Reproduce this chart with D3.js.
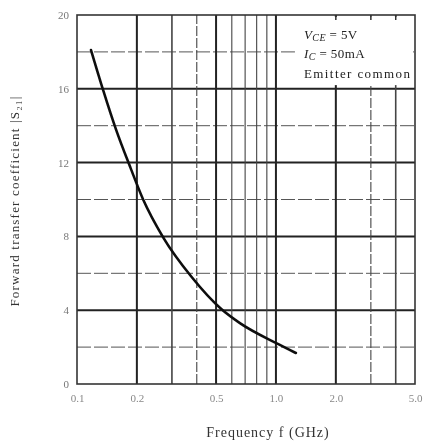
<!DOCTYPE html>
<html>
<head>
<meta charset="utf-8">
<script src="https://cdn.jsdelivr.net/npm/d3@7"></script>
<style>
  body { margin: 0; background: #fff; }
  text { font-family: "Liberation Serif", "DejaVu Serif", serif; }
</style>
</head>
<body>
<div id="chart"></div>
<script>
// curve
const freq = [0.1176, 0.1356, 0.157, 0.186, 0.215, 0.271, 0.377, 0.533, 0.659, 1.01, 1.26];
const s21  = [18.1, 15.9, 13.8, 11.7, 10.0, 7.95, 5.8, 4.05, 3.3, 2.2, 1.68];

const xTicks = [0.1, 0.2, 0.5, 1.0, 2.0, 5.0];
const xTickLabels = ["0.1", "0.2", "0.5", "1.0", "2.0", "5.0"];
const xMajorGrid = [0.2, 0.5, 1.0, 2.0];
const xMinorGrid = [0.3, 0.4, 0.6, 0.7, 0.8, 0.9, 3.0, 4.0];
const yTicks = [0, 4, 8, 12, 16, 20];
const yMinorGrid = [2, 6, 10, 14, 18];
const legendLines = ["Emitter common"];

const width = 423, height = 441;
const margin = {top: 15, right: 8, bottom: 57, left: 77};

const svg = d3.select("#chart").append("svg")
  .attr("width", width)
  .attr("height", height);

// little blur to mimic the scanned look
svg.append("defs").append("filter").attr("id", "soft")
  .append("feGaussianBlur").attr("stdDeviation", 0.45);

const g = svg.append("g").attr("filter", "url(#soft)");

const x = d3.scaleLog()
  .domain([0.1, 5])
  .range([margin.left, width - margin.right]);

const y = d3.scaleLinear()
  .domain([0, 20])
  .range([height - margin.bottom, margin.top]);

// grid
g.selectAll(".ygrid-minor").data(yMinorGrid).enter().append("line")
  .attr("x1", x(0.1)).attr("x2", x(5))
  .attr("y1", d => y(d)).attr("y2", d => y(d))
  .attr("stroke", "#555").attr("stroke-width", 1)
  .attr("stroke-dasharray", "14,3");

g.selectAll(".ygrid-major").data(yTicks.slice(1, -1)).enter().append("line")
  .attr("x1", x(0.1)).attr("x2", x(5))
  .attr("y1", d => y(d)).attr("y2", d => y(d))
  .attr("stroke", "#222").attr("stroke-width", 2);

g.selectAll(".xgrid-minor").data(xMinorGrid).enter().append("line")
  .attr("x1", d => x(d)).attr("x2", d => x(d))
  .attr("y1", y(0)).attr("y2", y(20))
  .attr("stroke", "#444").attr("stroke-width", d => (d === 0.3 || d === 4.0) ? 1.6 : 1.1)
  .attr("stroke-dasharray", d => (d === 0.4 || d === 3.0) ? "10,2" : null);

g.selectAll(".xgrid-major").data(xMajorGrid).enter().append("line")
  .attr("x1", d => x(d)).attr("x2", d => x(d))
  .attr("y1", y(0)).attr("y2", y(20))
  .attr("stroke", "#222").attr("stroke-width", 2);

// white patch behind the conditions text
g.append("rect")
  .attr("x", x(1.0) + 19).attr("y", y(20) + 2)
  .attr("width", x(5) - x(1.0) - 21)
  .attr("height", y(16.2) - y(20) - 2)
  .attr("fill", "#fff");

// little ticks left on the top edge above the patch
g.selectAll(".top-tick").data([2.0, 3.0, 4.0]).enter().append("line")
  .attr("x1", d => x(d)).attr("x2", d => x(d))
  .attr("y1", y(20)).attr("y2", y(20) + 5)
  .attr("stroke", "#333").attr("stroke-width", 1.5);

// frame
g.append("rect")
  .attr("x", x(0.1)).attr("y", y(20))
  .attr("width", x(5) - x(0.1))
  .attr("height", y(0) - y(20))
  .attr("fill", "none").attr("stroke", "#333").attr("stroke-width", 1.6);

// axes (labels only, ticks sit on the frame)
const xAxis = g.append("g")
  .attr("transform", `translate(0,${y(0)})`)
  .call(d3.axisBottom(x).tickValues(xTicks).tickSize(0).tickPadding(10)
    .tickFormat((d, i) => xTickLabels[i]));
xAxis.select(".domain").remove();
xAxis.selectAll("text").attr("font-size", 11).attr("fill", "#888")
  .attr("font-family", "Liberation Serif, serif");

const yAxis = g.append("g")
  .attr("transform", `translate(${x(0.1)},0)`)
  .call(d3.axisLeft(y).tickValues(yTicks).tickSize(0).tickPadding(8));
yAxis.select(".domain").remove();
yAxis.selectAll("text").attr("font-size", 11).attr("fill", "#777")
  .attr("font-family", "Liberation Serif, serif");

// curve
const pts = freq.map((f, i) => [f, s21[i]]);
g.append("path")
  .datum(pts)
  .attr("fill", "none")
  .attr("stroke", "#111")
  .attr("stroke-width", 2.6)
  .attr("stroke-linecap", "round")
  .attr("d", d3.line().x(d => x(d[0])).y(d => y(d[1])).curve(d3.curveMonotoneX));

// conditions text
const tx = 304;
const t1 = g.append("text").attr("x", tx).attr("y", 39).attr("font-size", 13)
  .attr("letter-spacing", 0.4).attr("fill", "#222");
t1.append("tspan").attr("font-style", "italic").text("V");
t1.append("tspan").attr("font-style", "italic").attr("font-size", 10).attr("dy", 2).text("CE");
t1.append("tspan").attr("dy", -2).text(" = 5V");

const t2 = g.append("text").attr("x", tx).attr("y", 58).attr("font-size", 13)
  .attr("letter-spacing", 0.4).attr("fill", "#222");
t2.append("tspan").attr("font-style", "italic").text("I");
t2.append("tspan").attr("font-style", "italic").attr("font-size", 10).attr("dy", 2).text("C");
t2.append("tspan").attr("dy", -2).text(" = 50mA");

g.selectAll(".legend").data(legendLines).enter().append("text")
  .attr("x", tx).attr("y", 78)
  .attr("font-size", 13).attr("letter-spacing", 1.4).attr("fill", "#222")
  .text(d => d);

// axis titles
g.append("text")
  .attr("transform", `translate(19,201) rotate(-90)`)
  .attr("text-anchor", "middle")
  .attr("font-size", 13).attr("letter-spacing", 1.2).attr("fill", "#333")
  .text("Forward transfer coefficient   |S₂₁|");

g.append("text")
  .attr("x", 268).attr("y", 437)
  .attr("text-anchor", "middle")
  .attr("font-size", 14).attr("letter-spacing", 1).attr("fill", "#333")
  .text("Frequency  f  (GHz)");
</script>
</body>
</html>
